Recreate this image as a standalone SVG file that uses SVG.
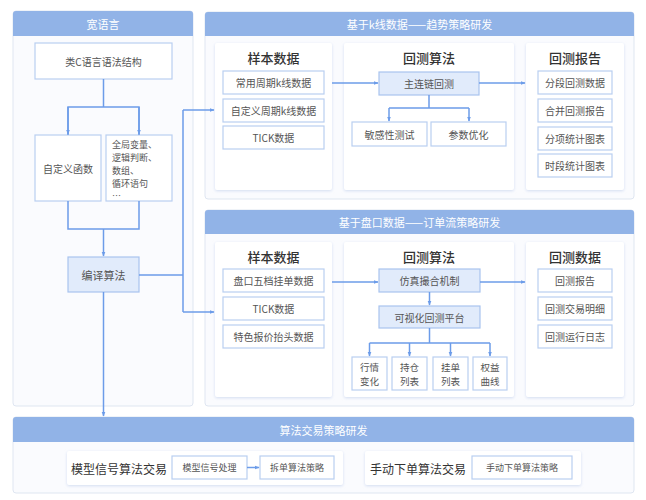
<svg xmlns="http://www.w3.org/2000/svg" width="646" height="500" viewBox="0 0 646 500">
<defs>
<style>
text{font-family:"Noto Sans CJK SC","Noto Sans",sans-serif;}
.panel{fill:#fafbfe;stroke:#dfe6f1;stroke-width:1;}
.hdr{fill:#91b3e7;}
.htxt{fill:#ffffff;font-size:11px;text-anchor:middle;dominant-baseline:central;}
.card{fill:#ffffff;filter:url(#sh);}
.ctitle{fill:#333333;font-size:13px;font-weight:500;text-anchor:middle;dominant-baseline:central;}
.box{fill:#ffffff;stroke:#b9cff1;stroke-width:1.2;}
.hbox{fill:#e1ebfb;stroke:#a9c4ee;stroke-width:1.2;}
.t{fill:#555555;font-size:10px;text-anchor:middle;dominant-baseline:central;}
.t2{fill:#555555;font-size:9.5px;text-anchor:middle;dominant-baseline:central;}
.tl{fill:#555555;font-size:9px;text-anchor:start;}
.ts{fill:#555555;font-size:9px;text-anchor:middle;dominant-baseline:central;}
.lbl{fill:#333333;font-size:12px;text-anchor:middle;dominant-baseline:central;}
.ln{fill:none;stroke:#6c9ce9;stroke-width:1.5;}
.la{fill:none;stroke:#6c9ce9;stroke-width:1.5;marker-end:url(#ar);}
</style>
<marker id="ar" viewBox="0 0 10 10" refX="9" refY="5" markerWidth="5" markerHeight="5" orient="auto" markerUnits="userSpaceOnUse">
<path d="M0,1 L10,5 L0,9 Z" fill="#6c9ce9"/>
</marker>
<filter id="sh" x="-10%" y="-10%" width="120%" height="130%">
<feDropShadow dx="0" dy="1" stdDeviation="1.5" flood-color="#b7c8e8" flood-opacity="0.6"/>
</filter>
</defs>

<!-- Left panel -->
<g id="panel-wide-lang">
<rect class="panel" x="13" y="11" width="180" height="395" rx="3"/>
<path class="hdr" d="M13,36 V14 a3,3 0 0 1 3,-3 H190 a3,3 0 0 1 3,3 V36 Z"/>
<text class="htxt" x="103" y="23.5">宽语言</text>
</g>
<g id="n-cstruct"><rect class="box" x="35" y="43" width="137" height="36"/><text class="t" x="103.5" y="61">类C语言语法结构</text></g>
<g id="n-func"><rect class="box" x="35" y="135" width="66" height="66"/><text class="t" x="68" y="168">自定义函数</text></g>
<g id="n-global"><rect class="box" x="106" y="135" width="66" height="66"/>
<text class="tl" x="112" y="148">全局变量、</text>
<text class="tl" x="112" y="161">逻辑判断、</text>
<text class="tl" x="112" y="174">数组、</text>
<text class="tl" x="112" y="187">循环语句</text>
<text class="tl" x="112" y="199">…</text>
</g>
<g id="n-compile"><rect class="hbox" x="68" y="257" width="71" height="35"/><text class="t" x="103.5" y="274.5" style="font-size:11px">编译算法</text></g>

<!-- K-line panel -->
<g id="panel-kline">
<rect class="panel" x="205" y="12" width="429" height="187" rx="3"/>
<path class="hdr" d="M205,36 V15 a3,3 0 0 1 3,-3 H631 a3,3 0 0 1 3,3 V36 Z"/>
<text class="htxt" x="419.5" y="24">基于k线数据——趋势策略研发</text>
<rect class="card" x="215" y="43" width="117" height="147" rx="2"/>
<rect class="card" x="344" y="43" width="170" height="147" rx="2"/>
<rect class="card" x="526" y="43" width="98" height="147" rx="2"/>
<text class="ctitle" x="273.5" y="57">样本数据</text>
<text class="ctitle" x="429" y="57">回测算法</text>
<text class="ctitle" x="575" y="57">回测报告</text>
</g>
<g id="k-s1"><rect class="box" x="223" y="71" width="101" height="23"/><text class="t" x="273.5" y="82.5">常用周期k线数据</text></g>
<g id="k-s2"><rect class="box" x="223" y="99" width="101" height="23"/><text class="t" x="273.5" y="110.5">自定义周期k线数据</text></g>
<g id="k-s3"><rect class="box" x="223" y="126" width="101" height="23"/><text class="t" x="273.5" y="137.5">TICK数据</text></g>
<g id="k-main"><rect class="hbox" x="379" y="72" width="100" height="23"/><text class="t" x="429" y="83.5">主连链回测</text></g>
<g id="k-sens"><rect class="box" x="352" y="122" width="75" height="24"/><text class="t" x="389.5" y="134">敏感性测试</text></g>
<g id="k-param"><rect class="box" x="431" y="122" width="75" height="24"/><text class="t" x="468.5" y="134">参数优化</text></g>
<g id="k-r1"><rect class="box" x="538" y="71" width="74" height="23"/><text class="t" x="575" y="82.5">分段回测数据</text></g>
<g id="k-r2"><rect class="box" x="538" y="99" width="74" height="23"/><text class="t" x="575" y="110.5">合并回测报告</text></g>
<g id="k-r3"><rect class="box" x="538" y="127" width="74" height="23"/><text class="t" x="575" y="138.5">分项统计图表</text></g>
<g id="k-r4"><rect class="box" x="538" y="154" width="74" height="23"/><text class="t" x="575" y="165.5">时段统计图表</text></g>

<!-- Order flow panel -->
<g id="panel-order">
<rect class="panel" x="205" y="210" width="429" height="196" rx="3"/>
<path class="hdr" d="M205,234 V213 a3,3 0 0 1 3,-3 H631 a3,3 0 0 1 3,3 V234 Z"/>
<text class="htxt" x="419.5" y="222">基于盘口数据——订单流策略研发</text>
<rect class="card" x="215" y="242" width="117" height="155" rx="2"/>
<rect class="card" x="344" y="242" width="170" height="155" rx="2"/>
<rect class="card" x="526" y="242" width="98" height="155" rx="2"/>
<text class="ctitle" x="273.5" y="256">样本数据</text>
<text class="ctitle" x="429" y="256">回测算法</text>
<text class="ctitle" x="575" y="256">回测数据</text>
</g>
<g id="o-s1"><rect class="box" x="223" y="269" width="101" height="23"/><text class="t" x="273.5" y="280.5">盘口五档挂单数据</text></g>
<g id="o-s2"><rect class="box" x="223" y="297" width="101" height="23"/><text class="t" x="273.5" y="308.5">TICK数据</text></g>
<g id="o-s3"><rect class="box" x="223" y="325" width="101" height="23"/><text class="t" x="273.5" y="336.5">特色报价抬头数据</text></g>
<g id="o-match"><rect class="hbox" x="379" y="269" width="101" height="23"/><text class="t" x="429.5" y="280.5">仿真撮合机制</text></g>
<g id="o-vis"><rect class="hbox" x="379" y="306" width="101" height="22"/><text class="t" x="429.5" y="317">可视化回测平台</text></g>
<g id="o-b1"><rect class="box" x="352" y="357" width="35" height="33"/><text class="t2" x="369.5" y="366.5">行情</text><text class="t2" x="369.5" y="380.5">变化</text></g>
<g id="o-b2"><rect class="box" x="392" y="357" width="35" height="33"/><text class="t2" x="409.5" y="366.5">持仓</text><text class="t2" x="409.5" y="380.5">列表</text></g>
<g id="o-b3"><rect class="box" x="433" y="357" width="35" height="33"/><text class="t2" x="450.5" y="366.5">挂单</text><text class="t2" x="450.5" y="380.5">列表</text></g>
<g id="o-b4"><rect class="box" x="473" y="357" width="34" height="33"/><text class="t2" x="490" y="366.5">权益</text><text class="t2" x="490" y="380.5">曲线</text></g>
<g id="o-r1"><rect class="box" x="538" y="269" width="74" height="23"/><text class="t" x="575" y="280.5">回测报告</text></g>
<g id="o-r2"><rect class="box" x="538" y="297" width="74" height="23"/><text class="t" x="575" y="308.5">回测交易明细</text></g>
<g id="o-r3"><rect class="box" x="538" y="325" width="74" height="23"/><text class="t" x="575" y="336.5">回测运行日志</text></g>

<!-- Bottom panel -->
<g id="panel-algo">
<rect class="panel" x="13" y="417" width="621" height="76" rx="3"/>
<path class="hdr" d="M13,442 V420 a3,3 0 0 1 3,-3 H631 a3,3 0 0 1 3,3 V442 Z"/>
<text class="htxt" x="323.5" y="430">算法交易策略研发</text>
<rect class="card" x="67" y="451" width="276" height="34" rx="2"/>
<rect class="card" x="365" y="451" width="216" height="34" rx="2"/>
<text class="lbl" x="119" y="468">模型信号算法交易</text>
<text class="lbl" x="418" y="468">手动下单算法交易</text>
</g>
<g id="a-sig"><rect class="box" x="172" y="456" width="75" height="23"/><text class="ts" x="209.5" y="467.5">模型信号处理</text></g>
<g id="a-split"><rect class="box" x="260" y="456" width="74" height="23"/><text class="ts" x="297" y="467.5">拆单算法策略</text></g>
<g id="a-manual"><rect class="box" x="472" y="456" width="100" height="23"/><text class="ts" x="522" y="467.5">手动下单算法策略</text></g>

<!-- Connectors -->
<g id="connectors">
<path class="ln" d="M103.5,79 V107 M68,135 V107 H139 V135"/>
<path class="la" d="M68,107 V134"/>
<path class="la" d="M139,107 V134"/>
<path class="ln" d="M68,201 V229 H139 V201"/>
<path class="la" d="M103.5,229 V256"/>
<path class="ln" d="M139,275 H183 M183,110 V312"/>
<path class="la" d="M183,110 H214"/>
<path class="la" d="M183,312 H214"/>
<path class="la" d="M103.5,292 V416"/>
<path class="la" d="M332,83 H378"/>
<path class="la" d="M479,83 H525"/>
<path class="ln" d="M429,95 V108 H389 M429,108 H469"/>
<path class="la" d="M389,108 V121"/>
<path class="la" d="M469,108 V121"/>
<path class="la" d="M332,282 H378"/>
<path class="la" d="M480,282 H525"/>
<path class="la" d="M429.5,292 V305"/>
<path class="ln" d="M429.5,328 V343 M369.5,343 H490"/>
<path class="la" d="M369.5,343 V356"/>
<path class="la" d="M409.5,343 V356"/>
<path class="la" d="M450.5,343 V356"/>
<path class="la" d="M490,343 V356"/>
<path class="la" d="M247,467.5 H259"/>
</g>
</svg>
